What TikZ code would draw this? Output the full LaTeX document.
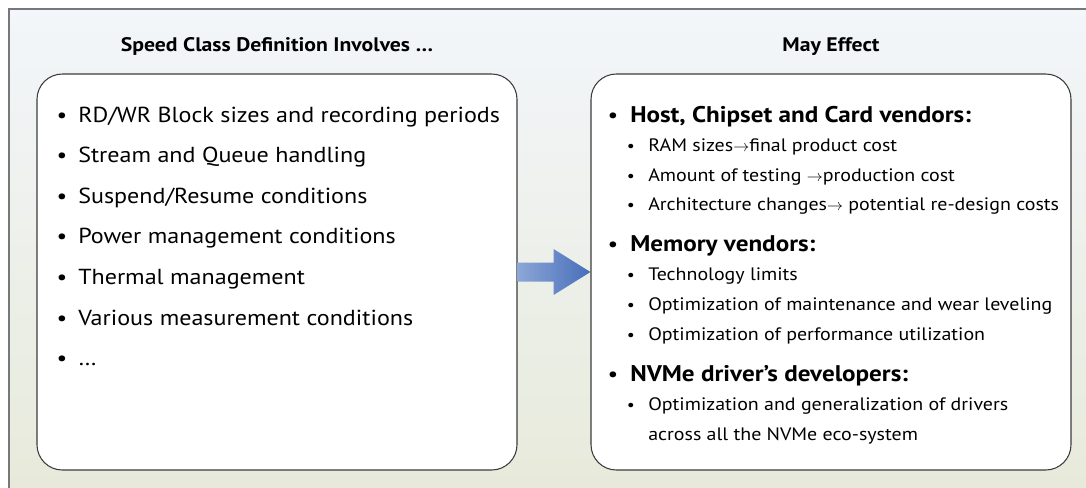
\documentclass[tikz,border=0pt]{standalone}
\usepackage{fontspec}
\setmainfont[FakeStretch=1.108]{PT Sans}
\usetikzlibrary{calc}
\definecolor{bgtop}{RGB}{243,246,250}
\definecolor{bgbot}{RGB}{231,234,218}
\definecolor{frame}{RGB}{120,120,120}
\definecolor{boxline}{RGB}{60,60,60}
\definecolor{arrL}{RGB}{140,166,214}
\definecolor{arrR}{RGB}{72,110,186}
\newcommand{\ra}{{\fontsize{12}{14}\selectfont$\rightarrow$}}
\tikzset{
  panel/.style={draw=boxline, line width=0.8pt, fill=white, rounded corners=19pt, minimum width=360pt, minimum height=297pt},
  title/.style={font=\bfseries\fontsize{14.7}{17}\selectfont, anchor=base},
  item/.style={font=\fontsize{16.3}{19}\selectfont, anchor=base west, inner sep=0pt},
  head/.style={font=\bfseries\fontsize{17}{20}\selectfont, anchor=base west, inner sep=0pt},
  sub/.style={font=\fontsize{13.5}{16}\selectfont, anchor=base west, inner sep=0pt},
  bul/.style={font=\fontsize{16}{19}\selectfont, anchor=base, inner sep=0pt},
  sbul/.style={font=\fontsize{12}{14}\selectfont, anchor=base, inner sep=0pt},
}
\begin{document}
\begin{tikzpicture}[x=0.75pt,y=-0.75pt]
\useasboundingbox (0,0) rectangle (1086,487);
\shade[top color=bgtop, bottom color=bgbot, draw=frame, line width=0.8pt] (9,9) rectangle (1095,496);
\node[panel] (L) at (277,272) {};
\node[panel] (R) at (831,272) {};
\node[title] (tL) at (277,51) {Speed Class Definition Involves \dots};
\node[title] (tR) at (831,51) {May Effect};
% arrow
\shade[left color=arrL, right color=arrR]
  ($(L.east)+(0,-9.5)$) -- ($(L.east)+(36,-9.5)$) -- ($(L.east)+(36,-23)$) -- (R.west)
  -- ($(L.east)+(36,23)$) -- ($(L.east)+(36,9.5)$) -- ($(L.east)+(0,9.5)$) -- cycle;
% left items
\node[bul] (lb1) at (62,122) {•};
\node[item] (li1) at (78,122) {RD/WR Block sizes and recording periods};
\node[bul] (lb2) at (62,162.6) {•};
\node[item] (li2) at (78,162.6) {Stream and Queue handling};
\node[bul] (lb3) at (62,203.2) {•};
\node[item] (li3) at (78,203.2) {Suspend/Resume conditions};
\node[bul] (lb4) at (62,243.8) {•};
\node[item] (li4) at (78,243.8) {Power management conditions};
\node[bul] (lb5) at (62,284.4) {•};
\node[item] (li5) at (78,284.4) {Thermal management};
\node[bul] (lb6) at (62,325) {•};
\node[item] (li6) at (78,325) {Various measurement conditions};
\node[bul] (lb7) at (62,365.6) {•};
\node[item] (li7) at (78,365.6) {\dots};
% right
\node[bul] (rb1) at (613,122) {•};
\node[head] (rh1) at (630,122) {Host, Chipset and Card vendors:};
\node[sbul] (s1) at (631,151.5) {•};
\node[sub] (st1) at (648,151.5) {RAM sizes\ra final product cost};
\node[sbul] (s2) at (631,181) {•};
\node[sub] (st2) at (648,181) {Amount of testing \ra production cost};
\node[sbul] (s3) at (631,210) {•};
\node[sub] (st3) at (648,210) {Architecture changes\ra\ potential re-design costs};
\node[bul] (rb2) at (613,251) {•};
\node[head] (rh2) at (630,251) {Memory vendors:};
\node[sbul] (s4) at (631,280) {•};
\node[sub] (st4) at (648,280) {Technology limits};
\node[sbul] (s5) at (631,310) {•};
\node[sub] (st5) at (648,310) {Optimization of maintenance and wear leveling};
\node[sbul] (s6) at (631,340) {•};
\node[sub] (st6) at (648,340) {Optimization of performance utilization};
\node[bul] (rb3) at (613,381) {•};
\node[head] (rh3) at (630,381) {NVMe driver’s developers:};
\node[sbul] (s7) at (631,410) {•};
\node[sub] (st7) at (648,410) {Optimization and generalization of drivers};
\node[sub] (st8) at (648,440) {across all the NVMe eco-system};
\end{tikzpicture}
\end{document}
